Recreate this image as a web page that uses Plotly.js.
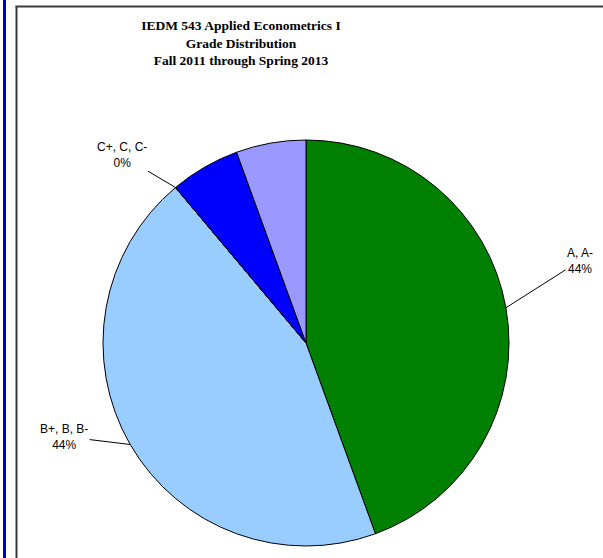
<!DOCTYPE html>
<html>
<head>
<meta charset="utf-8">
<script src="https://cdn.plot.ly/plotly-3.0.1.min.js"></script>
<style>
  html, body { margin: 0; padding: 0; background: #ffffff; }
  #chart { width: 603px; height: 558px; }
</style>
</head>
<body>
<div id="chart"></div>
<script>
// Grade counts, Fall 2011 through Spring 2013
const gradeLabels = ["A, A-", "B+, B, B-", "C+, C, C-", "D+, D, D-", "F"];
const gradeCounts = [8, 8, 0, 1, 1];
const sliceColors = ["#008000", "#99CCFF", "#0000FF", "#0000FF", "#9999FF"];
const labelledSlices = [0, 1, 2];          // slices that carry a callout
const calloutOffsets = [[74, -47], [-66, -8], [-54, -32]]; // text offset from the rim, px

const W = 603, H = 558;
const cx = 306, cy = 343, r = 203;         // pie centre and radius in px

const total = gradeCounts.reduce((a, b) => a + b, 0);

// mid-angle of each slice, clockwise from 12 o'clock
const midAngles = [];
let acc = 0;
gradeCounts.forEach(v => {
  const span = v / total * 360;
  midAngles.push(acc + span / 2);
  acc += span;
});

const annotations = labelledSlices.map((idx, k) => {
  const a = midAngles[idx] * Math.PI / 180;
  const px = cx + r * Math.sin(a);
  const py = cy - r * Math.cos(a);
  const pct = Math.round(gradeCounts[idx] / total * 100);
  return {
    xref: "paper", yref: "paper",
    x: px / W, y: 1 - py / H,
    text: gradeLabels[idx] + "<br>" + pct + "%",
    showarrow: true, arrowhead: 0, arrowwidth: 1, arrowcolor: "#000000",
    ax: calloutOffsets[k][0], ay: calloutOffsets[k][1],
    standoff: 0, borderpad: 1,
    font: { family: "Liberation Sans, Arial, sans-serif", size: 12, color: "#000000" },
    align: "center"
  };
});

const data = [{
  type: "pie",
  labels: gradeLabels,
  values: gradeCounts,
  sort: false,
  direction: "clockwise",
  rotation: 0,
  textinfo: "none",
  hoverinfo: "none",
  showlegend: false,
  marker: { colors: sliceColors, line: { color: "#000000", width: 1 } },
  domain: {
    x: [(cx - r) / W, (cx + r) / W],
    y: [1 - (cy + r) / H, 1 - (cy - r) / H]
  }
}];

const layout = {
  width: W, height: H,
  margin: { l: 0, r: 0, t: 0, b: 0 },
  paper_bgcolor: "#ffffff",
  showlegend: false,
  title: {
    text: "IEDM 543 Applied Econometrics I<br>Grade Distribution<br>Fall 2011 through Spring 2013",
    font: { family: "Liberation Serif, Times New Roman, serif", size: 13.5, color: "#000000", weight: "bold" },
    x: 241 / W, xanchor: "center", xref: "paper",
    y: 1 - 30 / H, yanchor: "top", yref: "paper"
  },
  annotations: annotations,
  shapes: [
    { type: "line", xref: "paper", yref: "paper", x0: 4.5 / W, x1: 4.5 / W, y0: 0, y1: 1,
      line: { color: "#0000CC", width: 3 } },
    { type: "line", xref: "paper", yref: "paper", x0: 16.5 / W, x1: 16.5 / W, y0: 0, y1: 1 - 6 / H,
      line: { color: "#3a3a3a", width: 2 } },
    { type: "line", xref: "paper", yref: "paper", x0: 15.5 / W, x1: 1, y0: 1 - 6.5 / H, y1: 1 - 6.5 / H,
      line: { color: "#3a3a3a", width: 2 } }
  ]
};

Plotly.newPlot("chart", data, layout, { staticPlot: true, displayModeBar: false });
</script>
</body>
</html>
